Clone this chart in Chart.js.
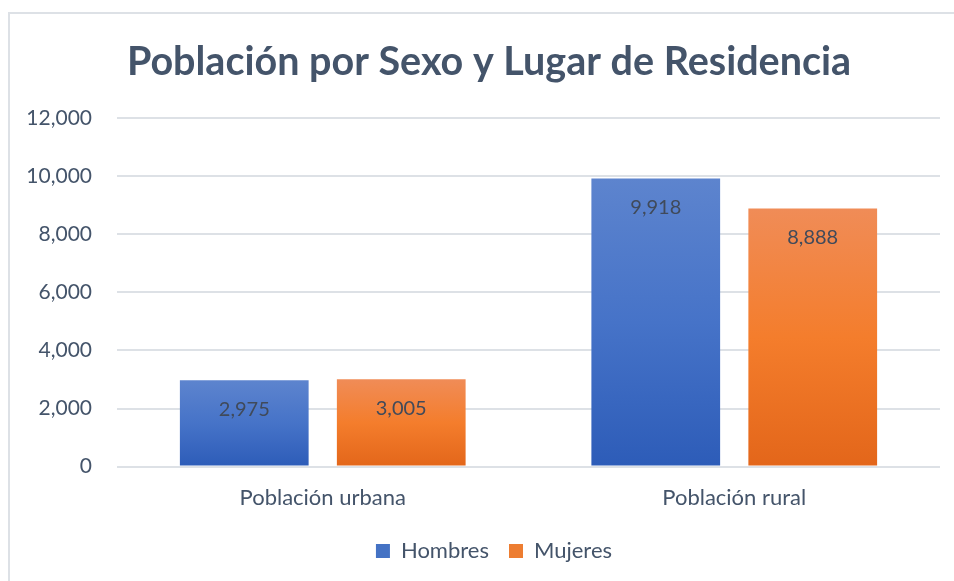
<!DOCTYPE html>
<html>
<head>
<meta charset="utf-8">
<script src="https://cdn.jsdelivr.net/npm/chart.js@4"></script>
<style>
  body { margin: 0; background: #fff; overflow: hidden; }
  #frame { position: absolute; left: 8px; top: 12px; width: 1000px; height: 600px; border: 2px solid #dde1e6; box-sizing: border-box; }
  #wrap { position: absolute; left: 0; top: 0; width: 1002px; height: 581px; }
</style>
</head>
<body>
<div id="frame"></div>
<div id="wrap"><canvas id="chart"></canvas></div>
<script>
// chart values
const categories = ['Población urbana', 'Población rural'];
const hombres = [2975, 9918];
const mujeres = [3005, 8888];
const seriesNames = ['Hombres', 'Mujeres'];
const yTicks = [0, 2000, 4000, 6000, 8000, 10000, 12000];
const chartTitle = 'Población por Sexo y Lugar de Residencia';

const textColor = '#44546A';
const fontFamily = 'Lato, "Open Sans", sans-serif';

// vertical gradient for each bar, from its top to the baseline
function barGradient(top, bottom) {
  return function (context) {
    const chart = context.chart;
    const el = context.element;
    if (!chart.chartArea || !el) return bottom;
    const yScale = chart.scales.y;
    const y0 = yScale.getPixelForValue(context.raw);
    const y1 = yScale.getPixelForValue(0);
    if (!isFinite(y0) || y0 === y1) return bottom;
    const g = chart.ctx.createLinearGradient(0, y0, 0, y1);
    g.addColorStop(0, top[0]);
    g.addColorStop(0.5, top[1]);
    g.addColorStop(1, bottom);
    return g;
  };
}

// value labels inside the top of each bar
const valueLabels = {
  id: 'valueLabels',
  afterDatasetsDraw(chart) {
    const ctx = chart.ctx;
    ctx.save();
    ctx.font = '20px ' + fontFamily;
    ctx.fillStyle = '#404A5A';
    ctx.textAlign = 'center';
    ctx.textBaseline = 'middle';
    chart.data.datasets.forEach((ds, i) => {
      chart.getDatasetMeta(i).data.forEach((bar, j) => {
        ctx.fillText(ds.data[j].toLocaleString('en-US'), bar.x, bar.y + 29);
      });
    });
    ctx.restore();
  }
};

// title drawn centred on the whole frame, not only the chart box
const frameTitle = {
  id: 'frameTitle',
  afterDraw(chart) {
    const ctx = chart.ctx;
    ctx.save();
    ctx.font = 'bold 39.5px ' + fontFamily;
    ctx.fillStyle = textColor;
    ctx.textAlign = 'center';
    ctx.textBaseline = 'middle';
    ctx.fillText(chartTitle, 489, 62);
    ctx.restore();
  }
};

new Chart(document.getElementById('chart'), {
  type: 'bar',
  data: {
    labels: categories,
    datasets: [
      {
        label: seriesNames[0],
        data: hombres,
        backgroundColor: barGradient(['#5D84CE', '#4673C8'], '#2D5CB8'),
        legendColor: '#4472C4'
      },
      {
        label: seriesNames[1],
        data: mujeres,
        backgroundColor: barGradient(['#F08C57', '#F47D2C'], '#E3661A'),
        legendColor: '#ED7D31'
      }
    ]
  },
  options: {
    responsive: true,
    maintainAspectRatio: false,
    animation: false,
    categoryPercentage: 0.763,
    barPercentage: 0.82,
    layout: { padding: { left: 0, right: 14, top: 118, bottom: 9 } },
    plugins: {
      title: { display: false },
      legend: {
        position: 'bottom',
        labels: {
          color: textColor,
          font: { family: fontFamily, size: 22 },
          boxWidth: 14,
          boxHeight: 14,
          padding: 20,
          generateLabels(chart) {
            return chart.data.datasets.map((ds, i) => ({
              text: ds.label,
              fillStyle: ds.legendColor,
              strokeStyle: ds.legendColor,
              lineWidth: 0,
              datasetIndex: i,
              fontColor: textColor
            }));
          }
        }
      },
      tooltip: { enabled: false }
    },
    scales: {
      x: {
        grid: { display: false, drawTicks: false },
        border: { display: false },
        afterFit(axis) { axis.height = axis.height - 9; },
        ticks: { color: textColor, font: { family: fontFamily, size: 22 }, padding: 18 }
      },
      y: {
        min: 0,
        max: 12000,
        afterBuildTicks(axis) { axis.ticks = yTicks.map(v => ({ value: v })); },
        afterFit(axis) { axis.width = 117; },
        grid: { color: '#dde1e6', lineWidth: 2, drawTicks: false },
        border: { display: false },
        ticks: {
          color: textColor,
          font: { family: fontFamily, size: 21 },
          padding: 25,
          callback: v => v.toLocaleString('en-US')
        }
      },
      // empty strip on the right, past the visible window, so the legend sits where it does in the original
      spacer: {
        type: 'linear',
        position: 'right',
        grid: { display: false, drawTicks: false },
        border: { display: false },
        ticks: { display: false },
        afterFit(axis) { axis.width = 48; }
      }
    }
  },
  plugins: [valueLabels, frameTitle]
});
</script>
</body>
</html>
